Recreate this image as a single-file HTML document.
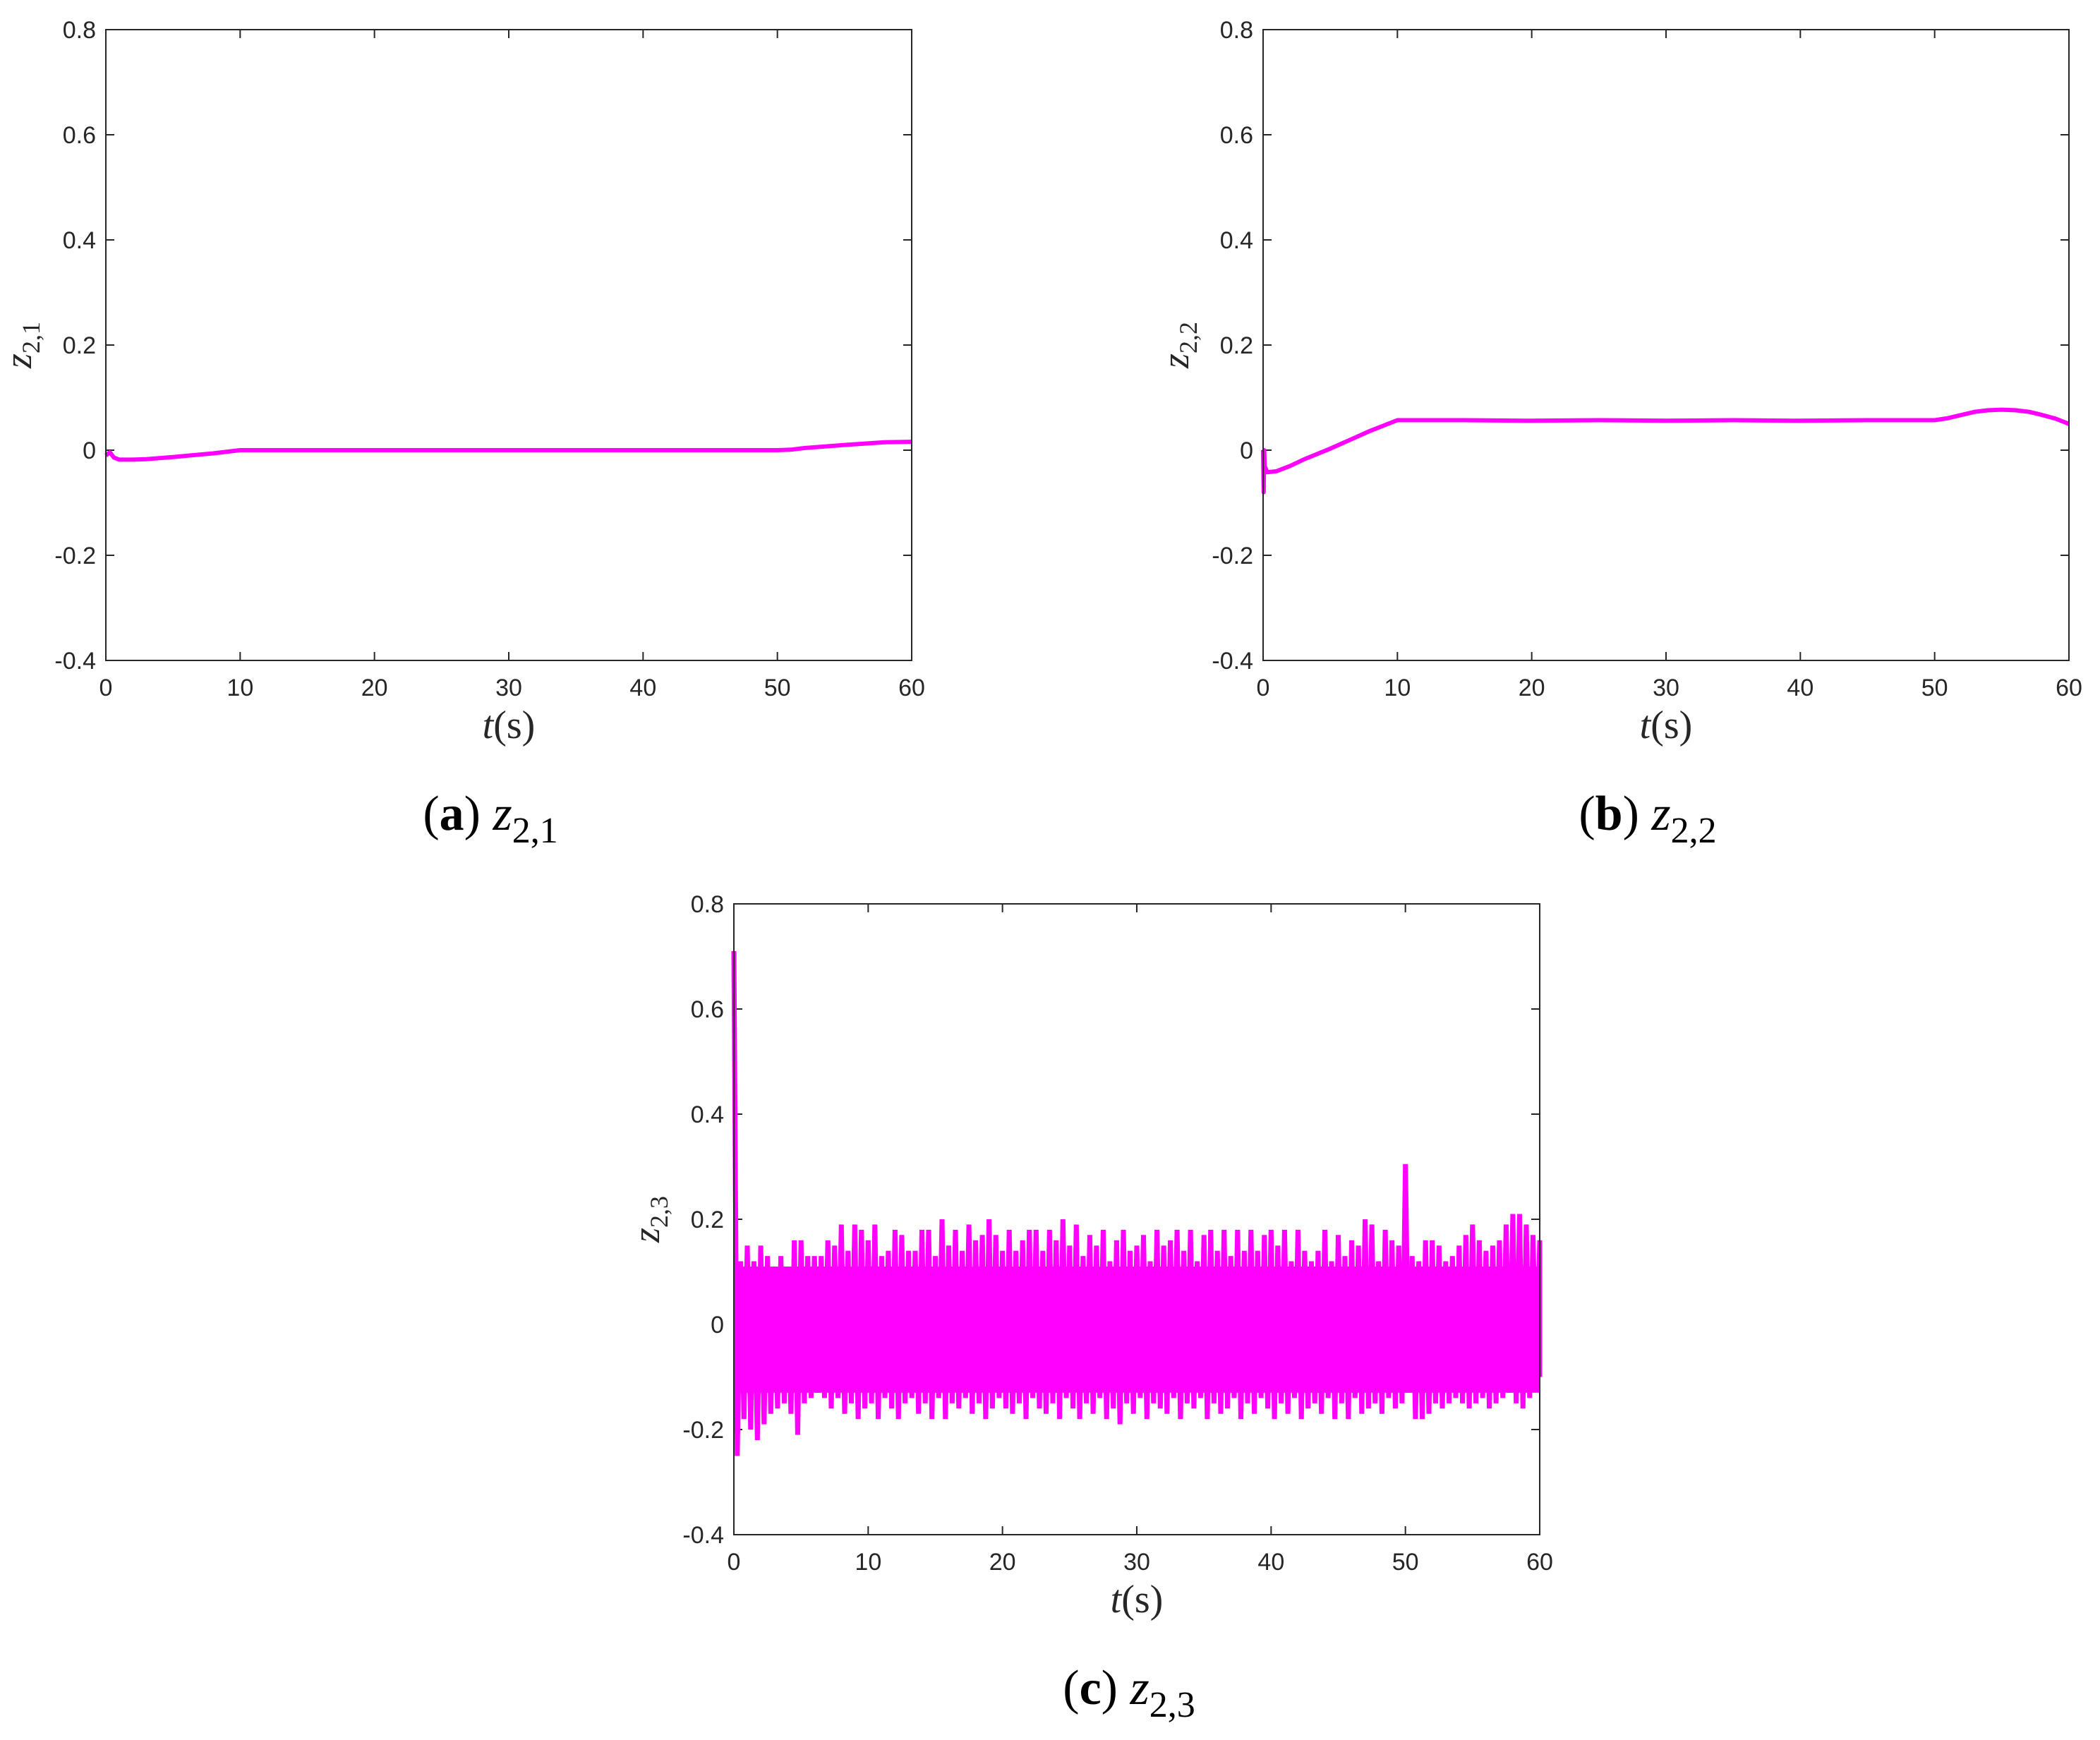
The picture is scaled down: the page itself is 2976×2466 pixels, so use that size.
<!DOCTYPE html>
<html><head><meta charset="utf-8"><style>
html,body{margin:0;padding:0;background:#fff;}
svg{display:block;}
</style></head><body>
<svg id="fig" width="2976" height="2466" viewBox="0 0 2976 2466" xmlns="http://www.w3.org/2000/svg"></svg>
<script>
// ---- data ----
const xTicks = [0,10,20,30,40,50,60];
const yTicks = [-0.4,-0.2,0,0.2,0.4,0.6,0.8];
const yTickLabels = ["-0.4","-0.2","0","0.2","0.4","0.6","0.8"];
// panel (a)
const tA = [0,0.3,0.6,1,2,3,5,8,10,20,30,40,50,51,52,55,58,60];
const zA = [-0.01,-0.004,-0.014,-0.018,-0.018,-0.017,-0.013,-0.006,0,0,0,0,0,0.001,0.004,0.01,0.015,0.016];
// panel (b)
const tB = [0,0.04,0.08,0.12,0.3,1,2,3,5,8,10,15,20,25,30,35,40,45,50,51,52,53,54,55,56,57,58,59,60];
const zB = [0,-0.08,0,-0.03,-0.042,-0.04,-0.03,-0.018,0.003,0.037,0.057,0.057,0.056,0.057,0.056,0.057,0.056,0.057,0.057,0.061,0.067,0.073,0.076,0.077,0.076,0.073,0.067,0.06,0.05];
// panel (c): peak envelope every 0.5 s
const zCHi = [0.71,0.12,0.15,0.12,0.15,0.13,0.11,0.13,0.11,0.16,0.16,0.13,0.13,0.13,0.16,0.15,0.19,0.14,0.19,0.18,
0.16,0.19,0.13,0.14,0.18,0.17,0.14,0.14,0.18,0.18,0.13,0.2,0.15,0.18,0.14,0.19,0.16,0.17,0.2,0.17,
0.14,0.18,0.14,0.16,0.18,0.18,0.14,0.18,0.16,0.2,0.15,0.19,0.13,0.17,0.15,0.18,0.12,0.16,0.18,0.14,
0.15,0.17,0.12,0.18,0.15,0.16,0.18,0.14,0.18,0.12,0.17,0.18,0.14,0.18,0.13,0.18,0.14,0.18,0.14,0.17,
0.18,0.15,0.18,0.12,0.18,0.14,0.12,0.14,0.18,0.12,0.17,0.13,0.16,0.15,0.2,0.19,0.12,0.18,0.16,0.15,
0.305,0.13,0.12,0.16,0.16,0.15,0.12,0.13,0.15,0.17,0.19,0.16,0.14,0.15,0.16,0.19,0.21,0.21,0.19,0.17,0.16];
const zCLo = [-0.25,-0.18,-0.2,-0.22,-0.19,-0.17,-0.16,-0.15,-0.17,-0.21,-0.15,-0.14,-0.13,-0.14,-0.16,-0.14,-0.17,-0.15,-0.18,-0.16,
-0.15,-0.18,-0.14,-0.16,-0.18,-0.15,-0.14,-0.17,-0.15,-0.18,-0.14,-0.18,-0.15,-0.16,-0.14,-0.17,-0.15,-0.18,-0.16,-0.14,
-0.16,-0.17,-0.15,-0.18,-0.14,-0.16,-0.17,-0.15,-0.18,-0.14,-0.16,-0.18,-0.15,-0.17,-0.14,-0.18,-0.16,-0.19,-0.15,-0.17,
-0.14,-0.18,-0.15,-0.16,-0.17,-0.14,-0.18,-0.15,-0.16,-0.14,-0.18,-0.15,-0.17,-0.16,-0.14,-0.18,-0.15,-0.17,-0.14,-0.16,
-0.18,-0.15,-0.17,-0.14,-0.18,-0.16,-0.15,-0.17,-0.14,-0.18,-0.15,-0.18,-0.14,-0.17,-0.16,-0.15,-0.17,-0.14,-0.16,-0.15,
-0.13,-0.18,-0.18,-0.17,-0.15,-0.16,-0.15,-0.14,-0.15,-0.16,-0.15,-0.14,-0.16,-0.15,-0.14,-0.13,-0.15,-0.16,-0.14,-0.12,-0.1];
const tCStep = 0.5;

// ---- drawing ----
const NS = "http://www.w3.org/2000/svg";
const svg = document.getElementById('fig');
function mk(tag, attrs, parent){
  const e = document.createElementNS(NS, tag);
  for (const k in attrs) e.setAttribute(k, attrs[k]);
  (parent||svg).appendChild(e);
  return e;
}
const W = 1142, H = 894;
function panel(id, left, top, ylab, capX){
  const g = mk('g', {});
  
  
  const xs = v => left + v/60*W;
  const ys = v => top + (0.8 - v)/1.2*H;
  const tickG = mk('g', {}, g);
  
  
  xTicks.forEach(v=>{
    const x = xs(v);
    mk('line',{x1:x,y1:top+H,x2:x,y2:top+H-12,stroke:'#262626','stroke-width':2},tickG);
    mk('line',{x1:x,y1:top,x2:x,y2:top+12,stroke:'#262626','stroke-width':2},tickG);
    const t = mk('text',{x:x,y:top+H+50,'text-anchor':'middle','font-family':'Liberation Sans, sans-serif','font-size':34,fill:'#262626'},tickG);
    t.textContent = v;
    
    
  });
  yTicks.forEach((v,i)=>{
    const y = ys(v);
    mk('line',{x1:left,y1:y,x2:left+12,y2:y,stroke:'#262626','stroke-width':2},tickG);
    mk('line',{x1:left+W,y1:y,x2:left+W-12,y2:y,stroke:'#262626','stroke-width':2},tickG);
    const t = mk('text',{x:left-14,y:y+12,'text-anchor':'end','font-family':'Liberation Sans, sans-serif','font-size':34,fill:'#262626'},tickG);
    t.textContent = yTickLabels[i];
    
    
  });
  const xl = mk('text',{x:left+W/2,y:top+H+110,'text-anchor':'middle','font-family':'Liberation Serif, serif','font-size':56,fill:'#262626'},g);
  xl.innerHTML = '<tspan font-style="italic">t</tspan>(s)';
  
  
  const yl = mk('text',{x:0,y:0,'text-anchor':'middle','font-family':'Liberation Serif, serif','font-size':54,fill:'#262626',transform:`translate(${left-106},${top+H/2}) rotate(-90)`},g);
  yl.innerHTML = '<tspan font-style="italic">z</tspan><tspan font-size="36" dy="12">' + ylab + '</tspan>';
  
  
  const cap = mk('text',{x:capX,y:top+H+240,'text-anchor':'middle','font-family':'Liberation Serif, serif','font-size':70,fill:'#000'},g);
  cap.innerHTML = '(<tspan font-weight="bold">' + id + '</tspan>) <tspan font-style="italic">z</tspan><tspan font-size="52" dy="18">' + ylab + '</tspan>';
  
  
  return {g, xs, ys, left, top};
}
function frame(p){
  const r = mk('rect',{x:p.left,y:p.top,width:W,height:H,fill:'none',stroke:'#262626','stroke-width':2},p.g);
  
  
}
function line(p, ts, vs, name){
  const pts = ts.map((t,i)=>p.xs(t).toFixed(1)+','+p.ys(vs[i]).toFixed(1)).join(' ');
  const pl = mk('polyline',{points:pts,fill:'none',stroke:'#ff00ff','stroke-width':6,'stroke-linejoin':'round'},p.g);
  
  
}
const pa = panel('a', 150, 42, '2,1', 695);
line(pa, tA, zA, 'series-z21'); frame(pa);
const pb = panel('b', 1790, 42, '2,2', 2335);
line(pb, tB, zB, 'series-z22'); frame(pb);
const pc = panel('c', 1040, 1281, '2,3', 1600);
(function(){
  const pts = [];
  for (let i=0;i<zCHi.length;i++){
    const t = i*tCStep;
    pts.push(pc.xs(Math.min(t,60)).toFixed(1)+','+pc.ys(zCHi[i]).toFixed(1));
    pts.push(pc.xs(Math.min(t+0.25,60)).toFixed(1)+','+pc.ys(zCLo[i]).toFixed(1));
  }
  const pl = mk('polyline',{points:pts.join(' '),fill:'none',stroke:'#ff00ff','stroke-width':7,'stroke-linejoin':'miter'},pc.g);
  
  
  const core = mk('rect',{x:pc.xs(0),y:pc.ys(0.11),width:W,height:pc.ys(-0.13)-pc.ys(0.11),fill:'#ff00ff'},pc.g);
  
  
})();
frame(pc);
</script>
</body></html>
